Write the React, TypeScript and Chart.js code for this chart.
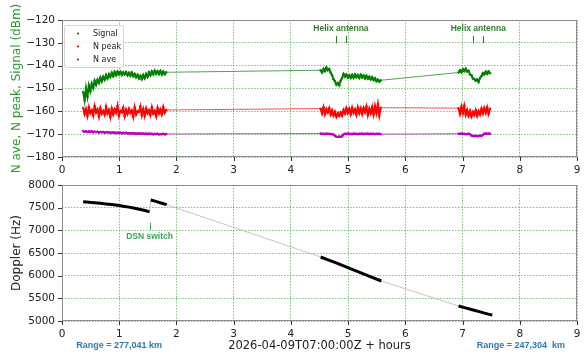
import { useEffect, useRef } from "react";
import { Chart, registerables } from "chart.js";

Chart.register(...registerables);

const FONT = "'DejaVu Sans', sans-serif";
const NOTE_FONT = "'Liberation Sans', Arial, sans-serif";

// Receiver log sampling (hours after 2026-04-09T07:00:00Z)
const SAMPLE_STEP_H = 0.025;
const PASS_STARTS_H = [0.37, 4.52, 6.93];

// Signal level per pass (dBm)
const signalPass1 = [
  -151.5, -155.2, -149.8, -153.6, -148.6, -151.2, -147.9, -149.8, -146.6, -148.4,
  -146.2, -147.6, -145.2, -146.9, -144.8, -146.2, -144.1, -145.6, -143.7, -145.0,
  -143.1, -144.6, -142.8, -144.2, -142.6, -143.9, -142.7, -144.1, -142.9, -143.8,
  -142.8, -144.2, -143.1, -144.4, -143.0, -144.6, -143.6, -145.1, -144.0, -145.6,
  -144.4, -145.9, -144.1, -145.5, -143.6, -144.9, -142.9, -144.2, -142.5, -143.8,
  -142.2, -143.6, -142.4, -143.7, -142.3, -143.9, -142.6, -143.8, -142.9,
];
const signalPass2 = [
  -142.0, -143.0, -141.4, -142.4, -140.8, -142.0, -141.4, -143.0, -144.2, -146.0,
  -146.8, -148.4, -147.6, -148.6, -146.6, -145.4, -143.6, -144.8, -143.9, -145.2,
  -144.2, -145.4, -144.0, -145.3, -143.9, -145.1, -144.1, -145.4, -144.0, -145.2,
  -144.3, -145.6, -144.4, -145.7, -144.8, -146.0, -145.0, -146.3, -145.5, -146.8,
  -146.1, -147.0, -146.4,
];
const signalPass3 = [
  -143.0, -142.0, -142.9, -141.5, -142.4, -141.3, -142.6, -142.2, -143.8, -144.2,
  -145.6, -145.9, -146.6, -146.0, -147.2, -145.4, -144.6, -143.2, -143.9, -142.6,
  -143.6, -142.5, -143.3,
];

// Noise peak per pass (dBm)
const noisePeakPass1 = [
  -158.5, -161.2, -159.0, -162.0, -158.2, -160.8, -159.5, -161.8, -157.8, -160.5,
  -159.2, -162.3, -158.6, -161.0, -159.8, -161.5, -158.0, -160.9, -159.4, -162.5,
  -158.8, -161.3, -159.1, -160.6, -157.6, -161.9, -159.7, -160.4, -158.4, -162.1,
  -159.3, -161.1, -158.9, -160.7, -159.6, -162.4, -158.3, -161.4, -159.9, -160.3,
  -157.9, -161.7, -159.0, -162.0, -158.7, -160.8, -159.5, -161.6, -158.2, -161.0,
  -159.8, -162.2, -158.5, -160.9, -159.2, -161.3, -158.1, -160.6, -159.4,
];
const noisePeakPass2 = [
  -158.8, -160.9, -158.2, -161.2, -159.0, -160.5, -158.6, -161.4, -159.5, -161.8,
  -160.2, -162.4, -160.8, -162.0, -160.5, -161.9, -159.4, -161.0, -158.6, -160.7,
  -158.9, -161.3, -158.4, -160.6, -159.1, -161.5, -158.3, -160.8, -158.7, -161.2,
  -158.5, -160.4, -157.9, -161.6, -158.8, -160.9, -158.1, -161.4, -157.6, -160.7,
  -156.8, -161.8, -158.4,
];
const noisePeakPass3 = [
  -158.6, -161.2, -158.0, -160.8, -157.6, -161.5, -159.4, -161.9, -159.8, -162.2,
  -160.3, -161.6, -159.5, -162.0, -159.9, -161.4, -158.8, -161.0, -158.5, -160.6,
  -158.2, -161.1, -158.9,
];

// Noise average per pass (dBm)
const noiseAvePass1 = [
  -168.6, -169.0, -168.7, -169.1, -168.8, -169.0, -168.7, -169.2, -168.9, -169.1,
  -168.9, -169.3, -169.0, -169.2, -169.0, -169.4, -169.1, -169.3, -169.1, -169.5,
  -169.2, -169.4, -169.2, -169.6, -169.3, -169.5, -169.3, -169.7, -169.4, -169.6,
  -169.4, -169.7, -169.5, -169.8, -169.5, -169.7, -169.6, -169.9, -169.6, -169.8,
  -169.6, -169.9, -169.7, -169.9, -169.7, -170.0, -169.7, -169.9, -169.8, -170.1,
  -169.8, -170.0, -169.8, -170.1, -169.9, -170.0, -169.8, -170.1, -169.9,
];
const noiseAvePass2 = [
  -169.7, -169.9, -169.8, -170.0, -169.7, -169.9, -169.8, -170.0, -169.9, -170.2,
  -170.8, -171.1, -171.2, -171.0, -171.2, -170.9, -170.1, -169.8, -169.9, -169.7,
  -169.9, -169.8, -170.0, -169.7, -169.9, -169.8, -170.0, -169.8, -169.9, -169.7,
  -170.0, -169.8, -169.9, -169.7, -170.0, -169.8, -169.9, -169.8, -170.0, -169.8,
  -169.9, -169.8, -170.0,
];
const noiseAvePass3 = [
  -169.8, -169.9, -169.7, -169.9, -169.8, -170.0, -169.9, -169.8, -170.0, -170.6,
  -170.8, -170.9, -170.7, -170.9, -170.8, -170.6, -170.8, -170.3, -169.8, -169.7,
  -169.8, -169.7, -169.8,
];

// Doppler track segments: times (h) and offsets (Hz)
const dopplerTimes = [
  [0.37, 0.47, 0.57, 0.67, 0.77, 0.87, 0.97, 1.07, 1.17, 1.27, 1.37, 1.45, 1.53],
  [1.55, 1.64, 1.73, 1.83],
  [4.52, 4.65, 4.78, 4.91, 5.04, 5.17, 5.3, 5.43, 5.58],
  [6.93, 7.05, 7.17, 7.29, 7.4, 7.52],
];
const dopplerHz = [
  [7632, 7622, 7609, 7596, 7583, 7568, 7551, 7533, 7512, 7488, 7461, 7436, 7408],
  [7668, 7638, 7604, 7566],
  [6412, 6350, 6287, 6222, 6157, 6090, 6022, 5955, 5882],
  [5331, 5290, 5248, 5206, 5168, 5130],
];

// Event times (h)
const helixSwitchTimes = [
  [4.79, 4.96],
  [7.19, 7.36],
];
const dsnSwitchTime = 1.53;
const rangeNotes = [
  { t: 1.0, text: "Range = 277,041 km" },
  { t: 8.02, text: "Range = 247,304  km" },
];

const xTicks = [0, 9];
const levelTicks = [-180, -120];
const dopplerTicks = [5000, 8000];

type Pt = { x: number; y: number | null };

function sampledPasses(passes: number[][]): Pt[] {
  return passes.flatMap((vals, p) =>
    vals.map((v, i) => ({ x: PASS_STARTS_H[p] + i * SAMPLE_STEP_H, y: v }))
  );
}

function dopplerPoints(withBreaks: boolean): Pt[] {
  const out: Pt[] = [];
  dopplerTimes.forEach((ts, s) => {
    if (withBreaks && s > 0) out.push({ x: (dopplerTimes[s - 1][dopplerTimes[s - 1].length - 1] + ts[0]) / 2, y: null });
    ts.forEach((t, i) => out.push({ x: t, y: dopplerHz[s][i] }));
  });
  return out;
}

const GRID_COLOR = "rgba(40,150,40,0.75)";

// Frame around the plot area plus outward tick marks on left and bottom
const framePlugin = {
  id: "frame",
  afterDraw(chart: any) {
    const { ctx, chartArea: a, scales } = chart;
    ctx.save();
    ctx.strokeStyle = "#8c8c8c";
    ctx.lineWidth = 1;
    ctx.strokeRect(a.left + 0.5, a.top + 0.5, a.right - a.left - 1, a.bottom - a.top - 1);
    ctx.strokeStyle = "#333";
    ctx.beginPath();
    scales.x.ticks.forEach((t: any) => {
      const px = Math.round(scales.x.getPixelForValue(t.value)) + 0.5;
      ctx.moveTo(px, a.bottom);
      ctx.lineTo(px, a.bottom + 4);
    });
    scales.y.ticks.forEach((t: any) => {
      const py = Math.round(scales.y.getPixelForValue(t.value)) + 0.5;
      ctx.moveTo(a.left - 4, py);
      ctx.lineTo(a.left, py);
    });
    ctx.stroke();
    ctx.restore();
  },
};

// Small boxed legend in the upper-left corner of the level plot
const legendPlugin = {
  id: "cornerLegend",
  afterDraw(chart: any) {
    const { ctx, chartArea: a } = chart;
    const x0 = a.left + 2;
    const y0 = a.top + 5;
    ctx.save();
    ctx.fillStyle = "rgba(255,255,255,0.85)";
    ctx.strokeStyle = "#d4d4d4";
    ctx.lineWidth = 1;
    ctx.beginPath();
    ctx.roundRect(x0 + 0.5, y0 + 0.5, 59, 42, 2);
    ctx.fill();
    ctx.stroke();
    ctx.font = `8px ${FONT}`;
    ctx.textBaseline = "middle";
    chart.data.datasets.forEach((ds: any, i: number) => {
      const cy = y0 + 8.5 + i * 13;
      ctx.fillStyle = ds.pointBackgroundColor;
      ctx.beginPath();
      ctx.arc(x0 + 14, cy, 1.1, 0, Math.PI * 2);
      ctx.fill();
      ctx.fillStyle = "#222";
      ctx.fillText(ds.label, x0 + 29, cy);
    });
    ctx.restore();
  },
};

// "Helix antenna" notes with their switch marks
const helixPlugin = {
  id: "helixNotes",
  afterDraw(chart: any) {
    const { ctx, scales } = chart;
    const { x, y } = scales;
    ctx.save();
    ctx.strokeStyle = "#2f7f2f";
    ctx.fillStyle = "#2f7f2f";
    ctx.lineWidth = 1;
    ctx.font = `bold 8.5px ${NOTE_FONT}`;
    ctx.textAlign = "center";
    ctx.textBaseline = "middle";
    helixSwitchTimes.forEach(([a, b]) => {
      ctx.fillText("Helix antenna", x.getPixelForValue((a + b) / 2), y.getPixelForValue(-124));
      ctx.beginPath();
      [a, b].forEach((t) => {
        const px = Math.round(x.getPixelForValue(t)) + 0.5;
        ctx.moveTo(px, y.getPixelForValue(-127));
        ctx.lineTo(px, y.getPixelForValue(-130.2));
      });
      ctx.stroke();
    });
    ctx.restore();
  },
};

// DSN switch mark and range notes for the Doppler plot
const dopplerNotesPlugin = {
  id: "dopplerNotes",
  afterDraw(chart: any) {
    const { ctx, scales, chartArea: a } = chart;
    const { x, y } = scales;
    ctx.save();
    ctx.textAlign = "center";
    ctx.textBaseline = "middle";
    ctx.strokeStyle = "#3aa35c";
    ctx.fillStyle = "#3aa35c";
    ctx.lineWidth = 1;
    const px = Math.round(x.getPixelForValue(dsnSwitchTime)) + 0.5;
    ctx.beginPath();
    ctx.moveTo(px, y.getPixelForValue(7165));
    ctx.lineTo(px, y.getPixelForValue(7005));
    ctx.stroke();
    ctx.font = `bold 8.5px ${NOTE_FONT}`;
    ctx.fillText("DSN switch", x.getPixelForValue(dsnSwitchTime), y.getPixelForValue(6860));
    ctx.fillStyle = "#2a78b8";
    ctx.font = `bold 9px ${NOTE_FONT}`;
    rangeNotes.forEach((n) => ctx.fillText(n.text, x.getPixelForValue(n.t), a.bottom + 25));
    ctx.restore();
  },
};

const tickFont = { family: FONT, size: 10.5 };
const minus = (v: any) => String(v).replace("-", "\u2212");

function baseX(axisHeight: number, title?: string) {
  return {
    type: "linear" as const,
    min: xTicks[0],
    max: xTicks[1],
    ticks: { stepSize: 1, padding: 7, font: tickFont, color: "#222" },
    grid: { color: GRID_COLOR, lineWidth: 0.8, drawTicks: false },
    border: { display: false, dash: [1.5, 1.5] },
    title: title
      ? { display: true, text: title, color: "#222", font: { family: FONT, size: 11.5 }, padding: { top: 0, bottom: 3 } }
      : { display: false },
    afterFit: (s: any) => {
      s.height = axisHeight;
      s.paddingLeft = 0;
      s.paddingRight = 0;
    },
  };
}

function baseY(min: number, max: number, step: number, title: string, color: string) {
  return {
    min,
    max,
    ticks: { stepSize: step, padding: 7, font: tickFont, color: "#222", callback: minus },
    grid: { color: GRID_COLOR, lineWidth: 0.8, drawTicks: false },
    border: { display: false, dash: [1.5, 1.5] },
    title: { display: true, text: title, color, font: { family: FONT, size: 12 }, padding: { top: 10, bottom: 0 } },
    afterFit: (s: any) => {
      s.width = 62;
      s.paddingTop = 0;
      s.paddingBottom = 0;
    },
  };
}

// Dense samples drawn as a heavy trace; the joins across gaps between passes stay thin
function series(label: string, color: string, data: Pt[], width: number) {
  return {
    label,
    data,
    borderColor: color,
    borderWidth: width,
    segment: {
      borderWidth: (c: any) => (c.p1.parsed.x - c.p0.parsed.x > 0.1 ? 0.7 : width),
    },
    pointRadius: 1.2,
    pointBorderWidth: 0,
    pointBackgroundColor: color,
    pointHoverRadius: 0,
    fill: false,
    tension: 0,
  };
}

export default function App() {
  const topRef = useRef<HTMLCanvasElement>(null);
  const bottomRef = useRef<HTMLCanvasElement>(null);

  useEffect(() => {
    Chart.defaults.font.family = FONT;
    const top = new Chart(topRef.current!, {
      type: "line",
      data: {
        datasets: [
          series("Signal", "#008000", sampledPasses([signalPass1, signalPass2, signalPass3]), 2),
          series("N peak", "#ff0000", sampledPasses([noisePeakPass1, noisePeakPass2, noisePeakPass3]), 2),
          series("N ave", "#bf00bf", sampledPasses([noiseAvePass1, noiseAvePass2, noiseAvePass3]), 2),
        ],
      },
      options: {
        responsive: false,
        animation: false,
        events: [],
        layout: { padding: { top: 20, right: 7, left: 0, bottom: 0 } },
        plugins: { legend: { display: false }, tooltip: { enabled: false } },
        scales: {
          x: baseX(21),
          y: baseY(levelTicks[0], levelTicks[1], 10, "N ave, N peak, Signal (dBm)", "#2e9a2e"),
        },
      } as any,
      plugins: [framePlugin, legendPlugin, helixPlugin],
    });

    const bottom = new Chart(bottomRef.current!, {
      type: "line",
      data: {
        datasets: [
          {
            label: "Doppler",
            data: dopplerPoints(true),
            borderColor: "#000",
            borderWidth: 3,
            pointRadius: 0,
            spanGaps: false,
            fill: false,
            order: 0,
          },
          {
            label: "Doppler track",
            data: dopplerPoints(false),
            borderColor: "#b5b5b5",
            borderWidth: 0.8,
            pointRadius: 0,
            fill: false,
            order: 1,
          },
        ],
      },
      options: {
        responsive: false,
        animation: false,
        events: [],
        layout: { padding: { top: 7, right: 7, left: 0, bottom: 0 } },
        plugins: { legend: { display: false }, tooltip: { enabled: false } },
        scales: {
          x: baseX(35, "2026-04-09T07:00:00Z + hours"),
          y: baseY(dopplerTicks[0], dopplerTicks[1], 500, "Doppler (Hz)", "#222"),
        },
      } as any,
      plugins: [framePlugin, dopplerNotesPlugin],
    });

    return () => {
      top.destroy();
      bottom.destroy();
    };
  }, []);

  return (
    <div style={{ position: "absolute", left: 0, top: 0, width: 584, height: 356, background: "#fff" }}>
      <canvas ref={topRef} width={584} height={178} style={{ position: "absolute", left: 0, top: 0 }} />
      <canvas ref={bottomRef} width={584} height={178} style={{ position: "absolute", left: 0, top: 178 }} />
    </div>
  );
}
